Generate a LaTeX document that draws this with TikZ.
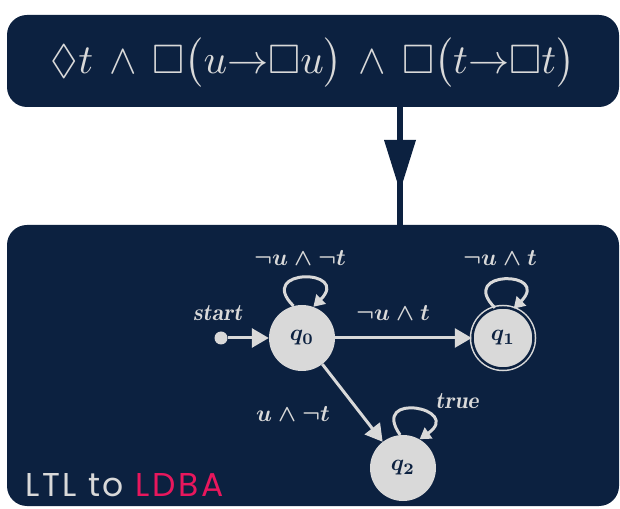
\documentclass[tikz,border=0pt]{standalone}
\usepackage{amsmath,amssymb}
\usepackage{graphicx}
\usepackage{fontspec}
\newfontfamily\labelsans[LetterSpace=8]{Poppins}
\usetikzlibrary{arrows.meta}
\definecolor{navy}{HTML}{0C2140}
\definecolor{lgray}{HTML}{D9D9D9}
\definecolor{pinkred}{HTML}{E8175D}
\tikzset{
  panel/.style={fill=navy, rounded corners=20pt},
  state/.style={circle, fill=lgray, minimum size=66pt, inner sep=0pt, text=navy},
  trans/.style={draw=lgray, line width=3pt, -{Triangle[length=17pt,width=19pt]}},
  looptrans/.style={draw=lgray, line width=3pt, -{Triangle[length=11pt,width=13pt]}},
  elabel/.style={text=lgray, scale=2.35, inner sep=0pt, font=\boldmath},
  qlabel/.style={scale=2.3, inner sep=0pt, font=\boldmath}
}
\begin{document}
\begin{tikzpicture}[x=1pt,y=1pt]
\useasboundingbox (0,0) rectangle (620,508);
\fill[white] (0,0) rectangle (620,508);
% panels
\node[panel, minimum width=612pt, minimum height=92pt, inner sep=0pt] (top) at (313,447) {};
\fill[panel] (7,283) rectangle (619,2);
\coordinate (botin) at (400,282);
\node[text=lgray, inner sep=0pt] (formula) at (313,445)
  {\resizebox{524pt}{!}{$\lozenge t \,\wedge\, \square\big(u{\to}\square u\big) \,\wedge\, \square\big(t{\to}\square t\big)$}};
% big arrow
\draw[navy, line width=6pt] (top.south -| botin) -- (botin);
\fill[navy] (384,368) -- (416,368) -- (400,317) -- cycle;
% automaton
\node[state] (q0) at (302,170) {};
\node[state, double=navy, draw=lgray, double distance=2.5pt, line width=1.5pt, minimum size=61pt] (q1) at (503,170) {};
\node[state] (q2) at (403,40) {};
\node[qlabel, text=navy] at (q0) {$q_{0}$};
\node[qlabel, text=navy] at (q1) {$q_{1}$};
\node[qlabel, text=navy] at (q2) {$q_{2}$};
\node[circle, fill=lgray, minimum size=13pt, inner sep=0pt] (s) at (221,170) {};
\node[elabel] (startlab) at (218,195) {$\mathit{start}$};
\draw[trans] (s) -- (q0);
\draw[trans] (q0) -- (q1);
\draw[trans] (q0) -- (q2);
\draw[looptrans] (q0.105) .. controls +(135:54pt) and +(45:54pt) .. (q0.70);
\draw[looptrans] (q1.105) .. controls +(135:54pt) and +(45:54pt) .. (q1.70);
\draw[looptrans] (q2.95) .. controls +(125:54pt) and +(35:54pt) .. (q2.60);
\node[elabel] (l0) at (300,250) {$\neg u \wedge \neg t$};
\node[elabel] (l1) at (500,250) {$\neg u \wedge t$};
\node[elabel] (l01) at (393,195) {$\neg u \wedge t$};
\node[elabel] (l02) at (293,94) {$u \wedge \neg t$};
\node[elabel] (l2) at (457,107) {$\mathit{true}$};
\node[anchor=base west, inner sep=0pt, font=\labelsans\fontsize{33}{38}\selectfont] (title) at (25,12)
  {\textcolor{lgray}{LTL to} \textcolor{pinkred}{LDBA}};
\end{tikzpicture}
\end{document}
